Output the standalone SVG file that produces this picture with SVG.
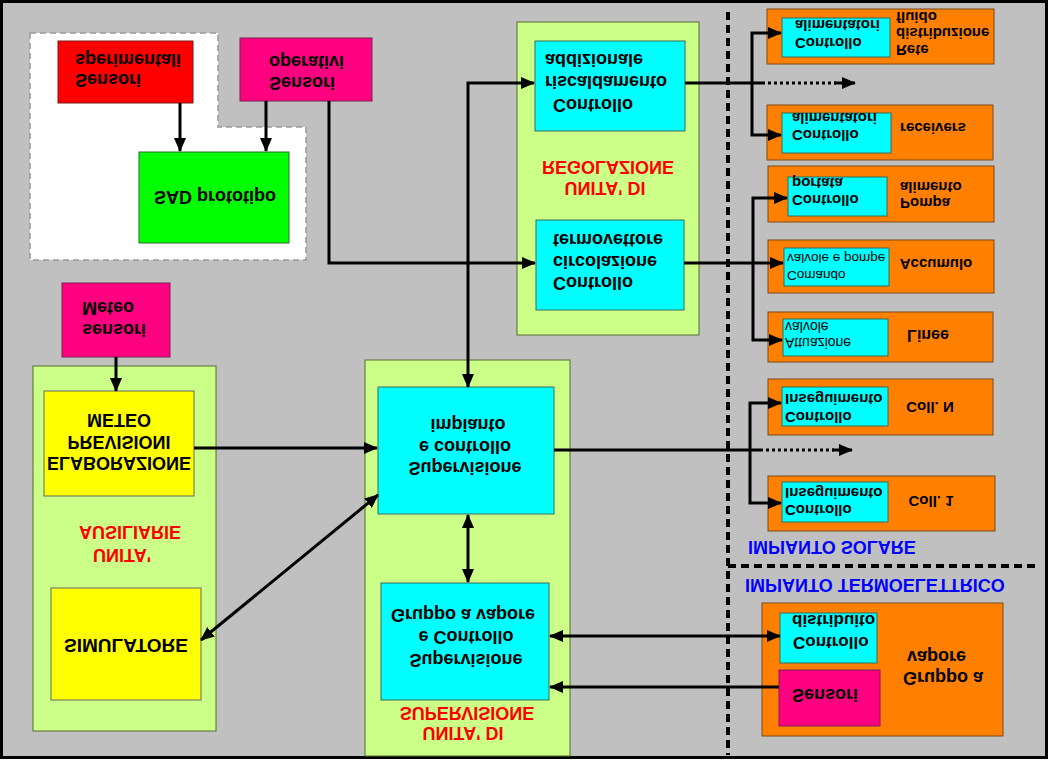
<svg xmlns="http://www.w3.org/2000/svg" width="1050" height="761" viewBox="0 0 1050 761">
<style>
.t{font-family:"Liberation Sans",Arial,sans-serif;font-weight:bold;font-size:18px;dominant-baseline:central;fill:#000}
.s{font-size:15px}
.r{font-weight:normal;font-size:13.5px}
.c{text-anchor:middle}
.red{fill:#FF0000}
.blue{fill:#0000FF}
.lg{fill:#CCFF88;stroke:#556b2f;stroke-width:1}
.cy{fill:#00FFFF;stroke:#3a6a5a;stroke-width:1}
.or{fill:#FF8000;stroke:#7a4a1a;stroke-width:1}
.ye{fill:#FFFF00;stroke:#666;stroke-width:1}
.mg{fill:#FF0080;stroke:#7a2050;stroke-width:1}
.ln{fill:none;stroke:#000;stroke-width:3}
.dot{fill:none;stroke:#000;stroke-width:3;stroke-dasharray:3,3}
.dash{fill:none;stroke:#000;stroke-width:4;stroke-dasharray:8,5}
</style>
<defs>
<marker id="ah" viewBox="0 0 14 12" refX="13" refY="6" markerWidth="14" markerHeight="12" markerUnits="userSpaceOnUse" orient="auto-start-reverse"><path d="M0,0 L14,6 L0,12 z" fill="#000"/></marker>
</defs>
<rect x="1.5" y="1.5" width="1045" height="756" fill="#C0C0C0" stroke="#000" stroke-width="3"/>

<g id="sad-area">
<polygon points="30,33 218,33 218,127 306,127 306,260 30,260" fill="#FFFFFF" stroke="#999" stroke-width="1.5" stroke-dasharray="6,4"/>
</g>
<g id="sensori-sperimentali">
<rect x="58" y="41" width="135" height="62" fill="#FF0000" stroke="#7a1a1a"/>
<text class="t" transform="translate(75,60) scale(1,-1)">sperimentali</text>
<text class="t" transform="translate(75,80) scale(1,-1)">Sensori</text>
</g>
<g id="sensori-operativi">
<rect x="240" y="38" width="132" height="63" class="mg"/>
<text class="t" transform="translate(269,62) scale(1,-1)">operativi</text>
<text class="t" transform="translate(269,83) scale(1,-1)">Sensori</text>
</g>
<g id="sad-prototipo">
<rect x="139" y="152" width="150" height="91" fill="#00FF00" stroke="#2a6a2a"/>
<text class="t c" transform="translate(215,197) scale(1,-1)">SAD prototipo</text>
</g>

<g id="unita-regolazione">
<rect x="517" y="22" width="182" height="313" class="lg"/>
<text class="t c red" transform="translate(608,167) scale(1,-1)">REGOLAZIONE</text>
<text class="t c red" transform="translate(605,188) scale(1,-1)">UNITA' DI</text>
</g>
<g id="controllo-riscaldamento">
<rect x="535" y="41" width="150" height="90" class="cy"/>
<text class="t" transform="translate(545,60) scale(1,-1)">addizionale</text>
<text class="t" transform="translate(545,82) scale(1,-1)">riscaldamento</text>
<text class="t" transform="translate(553,105) scale(1,-1)">Controllo</text>
</g>
<g id="controllo-circolazione">
<rect x="536" y="220" width="148" height="90" class="cy"/>
<text class="t" transform="translate(553,240) scale(1,-1)">termovettore</text>
<text class="t" transform="translate(553,262) scale(1,-1)">circolazione</text>
<text class="t" transform="translate(553,283) scale(1,-1)">Controllo</text>
</g>

<g id="unita-ausiliarie">
<rect x="33" y="366" width="183" height="365" class="lg"/>
<text class="t c red" transform="translate(130,532) scale(1,-1)">AUSILIARIE</text>
<text class="t c red" transform="translate(122,555) scale(1,-1)">UNITA'</text>
</g>
<g id="meteo-sensori">
<rect x="62" y="283" width="108" height="74" class="mg"/>
<text class="t" transform="translate(82,308) scale(1,-1)">Meteo</text>
<text class="t" transform="translate(82,330) scale(1,-1)">sensori</text>
</g>
<g id="elaborazione">
<rect x="44" y="391" width="150" height="105" class="ye"/>
<text class="t c" transform="translate(119,420) scale(1,-1)">METEO</text>
<text class="t c" transform="translate(119,442) scale(1,-1)">PREVISIONI</text>
<text class="t c" transform="translate(119,463) scale(1,-1)">ELABORAZIONE</text>
</g>
<g id="simulatore">
<rect x="51" y="588" width="150" height="112" class="ye"/>
<text class="t c" style="font-size:19px" transform="translate(126,645) scale(1,-1)">SIMULATORE</text>
</g>

<g id="unita-supervisione">
<rect x="365" y="360" width="205" height="396" class="lg"/>
<text class="t c red" transform="translate(467,713) scale(1,-1)">SUPERVISIONE</text>
<text class="t c red" transform="translate(463,733) scale(1,-1)">UNITA' DI</text>
</g>
<g id="supervisione-impianto">
<rect x="378" y="387" width="176" height="127" class="cy"/>
<text class="t c" transform="translate(468,425) scale(1,-1)">impianto</text>
<text class="t c" transform="translate(465,447) scale(1,-1)">e controllo</text>
<text class="t c" transform="translate(465,468) scale(1,-1)">Supervisione</text>
</g>
<g id="supervisione-gruppo">
<rect x="381" y="583" width="168" height="117" class="cy"/>
<text class="t c" transform="translate(463,615) scale(1,-1)">Gruppo a vapore</text>
<text class="t c" transform="translate(466,637) scale(1,-1)">e Controllo</text>
<text class="t c" transform="translate(466,660) scale(1,-1)">Supervisione</text>
</g>

<g id="rete-distribuzione">
<rect x="767" y="9" width="227" height="55" class="or"/>
<rect x="782" y="18" width="108" height="39" class="cy"/>
<text class="t s" transform="translate(795,25) scale(1,-1)">alimentatori</text>
<text class="t s" transform="translate(795,43) scale(1,-1)">Controllo</text>
<text class="t s" transform="translate(896,17) scale(1,-1)">fluido</text>
<text class="t s" transform="translate(896,33) scale(1,-1)">distribuzione</text>
<text class="t s" transform="translate(896,50) scale(1,-1)">Rete</text>
</g>
<g id="receivers">
<rect x="767" y="105" width="226" height="55" class="or"/>
<rect x="782" y="113" width="109" height="40" class="cy"/>
<text class="t s" transform="translate(792,118) scale(1,-1)">alimentatori</text>
<text class="t s" transform="translate(792,135) scale(1,-1)">Controllo</text>
<text class="t s c" transform="translate(933,128) scale(1,-1)">receivers</text>
</g>
<g id="pompa-alimento">
<rect x="768" y="166" width="226" height="56" class="or"/>
<rect x="788" y="177" width="99" height="39" class="cy"/>
<text class="t s" transform="translate(792,183) scale(1,-1)">portata</text>
<text class="t s" transform="translate(792,200) scale(1,-1)">Controllo</text>
<text class="t s" transform="translate(900,187) scale(1,-1)">alimento</text>
<text class="t s" transform="translate(900,203) scale(1,-1)">Pompa</text>
</g>
<g id="accumulo">
<rect x="768" y="240" width="226" height="53" class="or"/>
<rect x="784" y="248" width="105" height="38" class="cy"/>
<text class="t r" transform="translate(787,258) scale(1,-1)">valvole e pompe</text>
<text class="t r" transform="translate(787,275) scale(1,-1)">Comando</text>
<text class="t s c" transform="translate(936,264) scale(1,-1)">Accumulo</text>
</g>
<g id="linee">
<rect x="768" y="312" width="225" height="50" class="or"/>
<rect x="783" y="319" width="105" height="37" class="cy"/>
<text class="t r" style="font-size:14px" transform="translate(785,327) scale(1,-1)">valvole</text>
<text class="t r" style="font-size:14px" transform="translate(785,343) scale(1,-1)">Attuazione</text>
<text class="t c" style="font-size:16px" transform="translate(928,335) scale(1,-1)">Linee</text>
</g>
<g id="coll-n">
<rect x="768" y="379" width="225" height="56" class="or"/>
<rect x="782" y="387" width="106" height="39" class="cy"/>
<text class="t s" transform="translate(785,399) scale(1,-1)">Inseguimento</text>
<text class="t s" transform="translate(785,417) scale(1,-1)">Controllo</text>
<text class="t s c" transform="translate(930,407) scale(1,-1)">Coll. N</text>
</g>
<g id="coll-1">
<rect x="768" y="476" width="227" height="55" class="or"/>
<rect x="782" y="482" width="106" height="40" class="cy"/>
<text class="t s" transform="translate(785,493) scale(1,-1)">Inseguimento</text>
<text class="t s" transform="translate(785,510) scale(1,-1)">Controllo</text>
<text class="t s c" transform="translate(931,501) scale(1,-1)">Coll. 1</text>
</g>
<g id="impianto-solare">
<text class="t blue" transform="translate(748,547) scale(1,-1)">IMPIANTO SOLARE</text>
</g>
<g id="impianto-termoelettrico">
<text class="t blue" transform="translate(745,585) scale(1,-1)">IMPIANTO TERMOELETTRICO</text>
</g>
<g id="gruppo-vapore">
<rect x="762" y="603" width="241" height="133" class="or"/>
<text class="t" transform="translate(907,657) scale(1,-1)">vapore</text>
<text class="t" transform="translate(903,678) scale(1,-1)">Gruppo a</text>
</g>
<g id="controllo-distribuito">
<rect x="780" y="613" width="97" height="50" class="cy"/>
<text class="t" style="font-size:17px" transform="translate(792,620) scale(1,-1)">distribuito</text>
<text class="t" style="font-size:17px" transform="translate(793,642) scale(1,-1)">Controllo</text>
</g>
<g id="sensori-gruppo">
<rect x="779" y="670" width="101" height="56" class="mg"/>
<text class="t" transform="translate(792,695) scale(1,-1)">Sensori</text>
</g>

<g id="connectors">
<path class="dash" d="M728,12 V755"/>
<path class="dash" d="M728,566 H1035"/>
<path class="ln" d="M180,103 V151" marker-end="url(#ah)"/>
<path class="ln" d="M266,101 V151" marker-end="url(#ah)"/>
<path class="ln" d="M329,101 V263 H535" marker-end="url(#ah)"/>
<path class="ln" d="M468,387 V83 H534" marker-start="url(#ah)" marker-end="url(#ah)"/>
<path class="ln" d="M685,83 H762"/>
<path class="dot" d="M762,83 H836"/>
<path class="ln" d="M834,83 H855" marker-end="url(#ah)"/>
<path class="ln" d="M781,33 H752 V135 H781" marker-start="url(#ah)" marker-end="url(#ah)"/>
<path class="ln" d="M684,263 H783" marker-end="url(#ah)"/>
<path class="ln" d="M787,198 H753 V340 H782" marker-start="url(#ah)" marker-end="url(#ah)"/>
<path class="ln" d="M116,357 V391" marker-end="url(#ah)"/>
<path class="ln" d="M194,448 H377" marker-end="url(#ah)"/>
<path class="ln" d="M201,640 L378,495" marker-start="url(#ah)" marker-end="url(#ah)"/>
<path class="ln" d="M468,515 V582" marker-start="url(#ah)" marker-end="url(#ah)"/>
<path class="ln" d="M554,450 H760"/>
<path class="dot" d="M760,450 H834"/>
<path class="ln" d="M832,450 H852" marker-end="url(#ah)"/>
<path class="ln" d="M781,403 H750 V503 H781" marker-start="url(#ah)" marker-end="url(#ah)"/>
<path class="ln" d="M550,636 H780" marker-start="url(#ah)" marker-end="url(#ah)"/>
<path class="ln" d="M779,687 H550" marker-end="url(#ah)"/>
</g>
</svg>
